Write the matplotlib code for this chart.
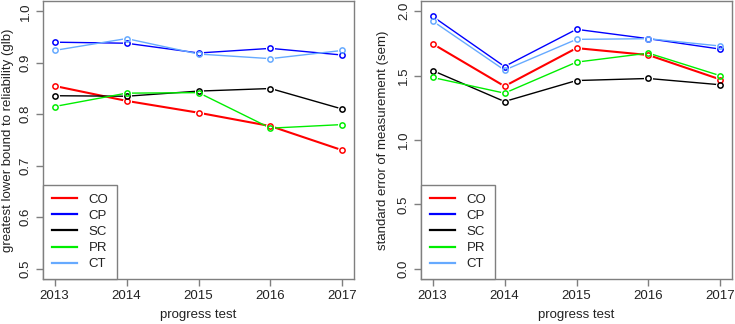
import numpy as np
import matplotlib
matplotlib.use("Agg")
import matplotlib.pyplot as plt

plt.rcParams["font.family"] = ["Liberation Sans", "DejaVu Sans"]

years = [2013, 2014, 2015, 2016, 2017]
groups = ["CO", "CP", "SC", "PR", "CT"]
colors = ["#ff0000", "#0000ff", "#000000", "#00ee00", "#66aaff"]

# greatest lower bound to reliability per group
glb_co = [0.855, 0.826, 0.803, 0.777, 0.730]
glb_cp = [0.940, 0.938, 0.919, 0.928, 0.915]
glb_sc = [0.836, 0.835, 0.845, 0.850, 0.810]
glb_pr = [0.815, 0.841, 0.842, 0.773, 0.780]
glb_ct = [0.924, 0.947, 0.917, 0.908, 0.924]

# standard error of measurement per group
sem_co = [1.748, 1.418, 1.714, 1.660, 1.470]
sem_cp = [1.961, 1.571, 1.860, 1.787, 1.706]
sem_sc = [1.540, 1.299, 1.462, 1.478, 1.429]
sem_pr = [1.486, 1.364, 1.605, 1.675, 1.499]
sem_ct = [1.925, 1.543, 1.782, 1.787, 1.730]

glb = [glb_co, glb_cp, glb_sc, glb_pr, glb_ct]
sem = [sem_co, sem_cp, sem_sc, sem_pr, sem_ct]

FS = 9.5
GRAY = "#7f7f7f"
TXT = "#222222"


def panel(ax, series, ylim, yticks, ylabel, label_x):
    for vals, c, g in zip(series, colors, groups):
        lw = 1.5 if c == "#ff0000" else 1.0
        ax.plot(years, vals, color=c, lw=lw, label=g, zorder=2)
        ax.plot(years, vals, ls="none", marker="o", ms=5.5, mfc="white",
                mec="white", zorder=3)
        ax.plot(years, vals, ls="none", marker="o", ms=3.8, mfc="none",
                mec=c, mew=1.1, zorder=4)
    pad = 0.04 * (ylim[1] - ylim[0])
    ax.set_ylim(ylim[0] - pad, ylim[1] + pad)
    ax.set_xlim(2013 - 0.16, 2017 + 0.16)
    ax.set_xticks(years)
    ax.set_yticks(yticks)
    ax.set_yticklabels([f"{t:.1f}" for t in yticks], rotation=90, va="center")
    for s in ax.spines.values():
        s.set_color(GRAY)
        s.set_linewidth(1.0)
    ax.tick_params(direction="out", length=5, width=1.0, color=GRAY,
                   labelsize=FS, labelcolor=TXT, pad=3)
    ax.set_xlabel("progress test", fontsize=FS, color=TXT, labelpad=5)
    ax.set_ylabel(ylabel, fontsize=FS, color=TXT, va="center")
    ax.yaxis.set_label_coords(label_x, 0.5)
    leg = ax.legend(loc="lower left", bbox_to_anchor=(0, 0), borderaxespad=0,
                    fancybox=False, edgecolor=GRAY, fontsize=FS,
                    handlelength=1.9, handletextpad=0.9, labelspacing=0.3,
                    borderpad=0.65, framealpha=1)
    leg.get_frame().set_linewidth(1.0)
    for h in leg.get_lines():
        h.set_linewidth(1.6)
    for t in leg.get_texts():
        t.set_color(TXT)


fig = plt.figure(figsize=(7.35, 3.24), dpi=100)
ax1 = fig.add_axes([43 / 735, 45 / 324, 311 / 735, 278 / 324])
ax2 = fig.add_axes([421 / 735, 45 / 324, 311 / 735, 278 / 324])

panel(ax1, glb, (0.5, 1.0), [0.5, 0.6, 0.7, 0.8, 0.9, 1.0],
      "greatest lower bound to reliability (glb)", -0.114)
panel(ax2, sem, (0.0, 2.0), [0.0, 0.5, 1.0, 1.5, 2.0],
      "standard error of measurement (sem)", -0.122)

fig.savefig("out.png", dpi=100)
